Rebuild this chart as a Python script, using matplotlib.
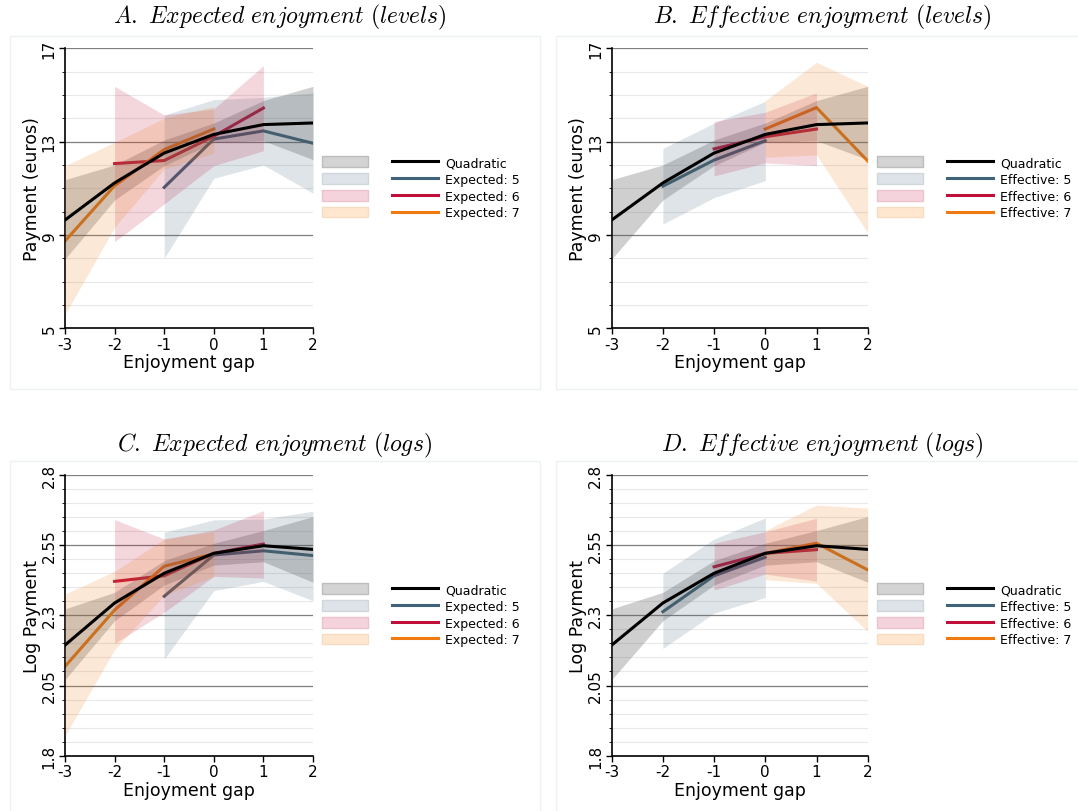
import matplotlib
matplotlib.use("Agg")
import matplotlib.pyplot as plt
import matplotlib.patches as mpatches
from matplotlib.lines import Line2D
import numpy as np

plt.rcParams['mathtext.fontset'] = 'cm'
plt.rcParams['font.family'] = 'DejaVu Sans'

gap = [-3, -2, -1, 0, 1, 2]

# quadratic fit (same in both columns)
quad_lvl = [9.64, 11.23, 12.51, 13.31, 13.73, 13.80]
quad_lvl_lo = [7.97, 10.50, 11.97, 12.97, 13.04, 12.23]
quad_lvl_hi = [11.37, 12.00, 13.07, 13.80, 14.76, 15.37]
quad_log = [2.194, 2.344, 2.450, 2.521, 2.548, 2.535]
quad_log_lo = [2.071, 2.281, 2.408, 2.479, 2.491, 2.418]
quad_log_hi = [2.323, 2.382, 2.495, 2.557, 2.602, 2.652]

# expected enjoyment groups
exp5_x = [-1, 0, 1, 2]
exp5_lvl = [11.04, 13.11, 13.46, 12.93]
exp5_lvl_lo = [8.00, 11.43, 12.00, 10.79]
exp5_lvl_hi = [14.14, 14.80, 14.90, 15.09]
exp5_log = [2.368, 2.515, 2.530, 2.513]
exp5_log_lo = [2.144, 2.388, 2.421, 2.352]
exp5_log_hi = [2.596, 2.640, 2.643, 2.671]

exp6_x = [-2, -1, 0, 1]
exp6_lvl = [12.06, 12.19, 13.23, 14.44]
exp6_lvl_lo = [8.71, 10.33, 11.97, 12.61]
exp6_lvl_hi = [15.37, 14.14, 14.40, 16.26]
exp6_log = [2.421, 2.441, 2.521, 2.554]
exp6_log_lo = [2.200, 2.311, 2.439, 2.433]
exp6_log_hi = [2.641, 2.572, 2.604, 2.673]

exp7_x = [-3, -2, -1, 0]
exp7_lvl = [8.74, 11.11, 12.66, 13.54]
exp7_lvl_lo = [5.59, 9.33, 11.83, 12.51]
exp7_lvl_hi = [11.97, 12.97, 14.00, 14.51]
exp7_log = [2.118, 2.319, 2.475, 2.519]
exp7_log_lo = [1.871, 2.178, 2.372, 2.438]
exp7_log_hi = [2.376, 2.457, 2.572, 2.598]

# effective enjoyment groups
eff5_x = [-2, -1, 0]
eff5_lvl = [11.09, 12.21, 13.04]
eff5_lvl_lo = [9.47, 10.60, 11.33]
eff5_lvl_hi = [12.71, 13.79, 14.73]
eff5_log = [2.313, 2.441, 2.507]
eff5_log_lo = [2.182, 2.308, 2.364]
eff5_log_hi = [2.450, 2.572, 2.647]

eff6_x = [-1, 0, 1]
eff6_lvl = [12.69, 13.21, 13.54]
eff6_lvl_lo = [11.53, 12.09, 11.97]
eff6_lvl_hi = [13.86, 14.26, 15.09]
eff6_log = [2.473, 2.521, 2.534]
eff6_log_lo = [2.390, 2.447, 2.422]
eff6_log_hi = [2.557, 2.598, 2.646]

eff7_x = [0, 1, 2]
eff7_lvl = [13.54, 14.46, 12.17]
eff7_lvl_lo = [12.33, 12.43, 9.09]
eff7_lvl_hi = [14.76, 16.40, 15.37]
eff7_log = [2.521, 2.557, 2.462]
eff7_log_lo = [2.427, 2.414, 2.243]
eff7_log_hi = [2.602, 2.693, 2.682]

c_quad = 'black'
c5 = '#3f6478'
c6 = '#c0103a'
c7 = '#f07a10'

fig = plt.figure(figsize=(10.78, 8.12), dpi=100)

# light panel frames
for (x0, y0, x1, y1) in [(10, 37, 540, 390), (556, 37, 1095, 390),
                         (10, 462, 540, 830), (556, 462, 1095, 830)]:
    fig.add_artist(mpatches.Rectangle((x0 / 1078, 1 - y1 / 812), (x1 - x0) / 1078,
                                      (y1 - y0) / 812, transform=fig.transFigure,
                                      fill=False, edgecolor='#edf1f1', lw=1))

def panel(rect, title, title_xy, groups, prefix, logs):
    ax = fig.add_axes(rect)
    if logs:
        q, qlo, qhi = quad_log, quad_log_lo, quad_log_hi
    else:
        q, qlo, qhi = quad_lvl, quad_lvl_lo, quad_lvl_hi
    # group lines under the bands, quadratic on top
    ax.plot(gap, q, color=c_quad, lw=2.2, zorder=6)
    for x, y, lo, hi, c in groups:
        ax.plot(x, y, color=c, lw=2.2, zorder=2)
    ax.fill_between(gap, qlo, qhi, color='#555555', alpha=0.28, lw=0, zorder=4)
    for x, y, lo, hi, c in groups:
        ax.fill_between(x, lo, hi, color=c, alpha=0.17, lw=0, zorder=4)

    ax.set_xlim(-3, 2)
    ax.set_xticks(gap)
    ax.set_xticklabels([str(g) for g in gap])
    if logs:
        ax.set_ylim(1.8, 2.8)
        major = [1.8, 2.05, 2.3, 2.55, 2.8]
        minor = np.arange(1.8, 2.801, 0.05)
        ax.set_ylabel('Log Payment', fontsize=12.5)
    else:
        ax.set_ylim(5, 17)
        major = [5, 9, 13, 17]
        minor = np.arange(5, 17.01, 1)
        ax.set_ylabel('Payment (euros)', fontsize=12.5)
    ax.set_yticks(major)
    ax.set_yticklabels([('%g' % m) for m in major], rotation=90, va='center')
    ax.set_yticks(minor, minor=True)
    for m in minor:
        ax.axhline(m, color='#e8e8e8', lw=0.8, zorder=0)
    for m in major[1:]:
        ax.axhline(m, color='#808080', lw=0.9, zorder=1)
    ax.tick_params(axis='both', labelsize=11, length=4, width=1, pad=2,
                   color='black')
    ax.tick_params(axis='y', which='minor', length=2.5)
    ax.set_xlabel('Enjoyment gap', fontsize=12.5)
    ax.xaxis.set_label_coords(0.5, -0.09)
    ax.yaxis.set_label_coords(-0.097, 0.5)
    for s in ['top', 'right']:
        ax.spines[s].set_visible(False)
    ax.spines['left'].set_linewidth(1.2)
    ax.spines['bottom'].set_linewidth(1.2)

    fig.text(title_xy[0] / 1078, 1 - title_xy[1] / 812, title, fontsize=17,
             ha='center', va='center')

    patches = [mpatches.Patch(facecolor='#d4d4d4', edgecolor='#bdbdbd'),
               mpatches.Patch(facecolor='#dde3e8', edgecolor='#cfd7dd'),
               mpatches.Patch(facecolor='#f5d3dc', edgecolor='#ecc2cd'),
               mpatches.Patch(facecolor='#ffe6cf', edgecolor='#f8dcc2')]
    lines = [Line2D([], [], color=c_quad, lw=2.2),
             Line2D([], [], color=c5, lw=2.2),
             Line2D([], [], color=c6, lw=2.2),
             Line2D([], [], color=c7, lw=2.2)]
    labels = [''] * 4 + ['Quadratic'] + [prefix + ': %d' % k for k in (5, 6, 7)]
    ax.legend(patches + lines, labels, ncol=2, frameon=False, fontsize=9,
              loc='upper left', bbox_to_anchor=(1.036, 0.615), borderaxespad=0,
              borderpad=0, handlelength=3.7, handleheight=0.95,
              handletextpad=0.55, columnspacing=1.36, labelspacing=0.3)
    return ax

rect_a = [65 / 1078, 1 - 329.3 / 812, 248 / 1078, 280 / 812]
rect_b = [611.7 / 1078, 1 - 329.3 / 812, 256 / 1078, 280 / 812]
rect_c = [65 / 1078, 1 - 756.7 / 812, 248 / 1078, 280.7 / 812]
rect_d = [611.7 / 1078, 1 - 756.7 / 812, 256 / 1078, 280.7 / 812]

panel(rect_a, r'$A.\ Expected\ enjoyment\ (levels)$', (280, 17),
      [(exp5_x, exp5_lvl, exp5_lvl_lo, exp5_lvl_hi, c5),
       (exp6_x, exp6_lvl, exp6_lvl_lo, exp6_lvl_hi, c6),
       (exp7_x, exp7_lvl, exp7_lvl_lo, exp7_lvl_hi, c7)], 'Expected', False)
panel(rect_b, r'$B.\ Effective\ enjoyment\ (levels)$', (822, 17),
      [(eff5_x, eff5_lvl, eff5_lvl_lo, eff5_lvl_hi, c5),
       (eff6_x, eff6_lvl, eff6_lvl_lo, eff6_lvl_hi, c6),
       (eff7_x, eff7_lvl, eff7_lvl_lo, eff7_lvl_hi, c7)], 'Effective', False)
panel(rect_c, r'$C.\ Expected\ enjoyment\ (logs)$', (275, 445),
      [(exp5_x, exp5_log, exp5_log_lo, exp5_log_hi, c5),
       (exp6_x, exp6_log, exp6_log_lo, exp6_log_hi, c6),
       (exp7_x, exp7_log, exp7_log_lo, exp7_log_hi, c7)], 'Expected', True)
panel(rect_d, r'$D.\ Effective\ enjoyment\ (logs)$', (822, 445),
      [(eff5_x, eff5_log, eff5_log_lo, eff5_log_hi, c5),
       (eff6_x, eff6_log, eff6_log_lo, eff6_log_hi, c6),
       (eff7_x, eff7_log, eff7_log_lo, eff7_log_hi, c7)], 'Effective', True)

fig.savefig('out.png', dpi=100)
